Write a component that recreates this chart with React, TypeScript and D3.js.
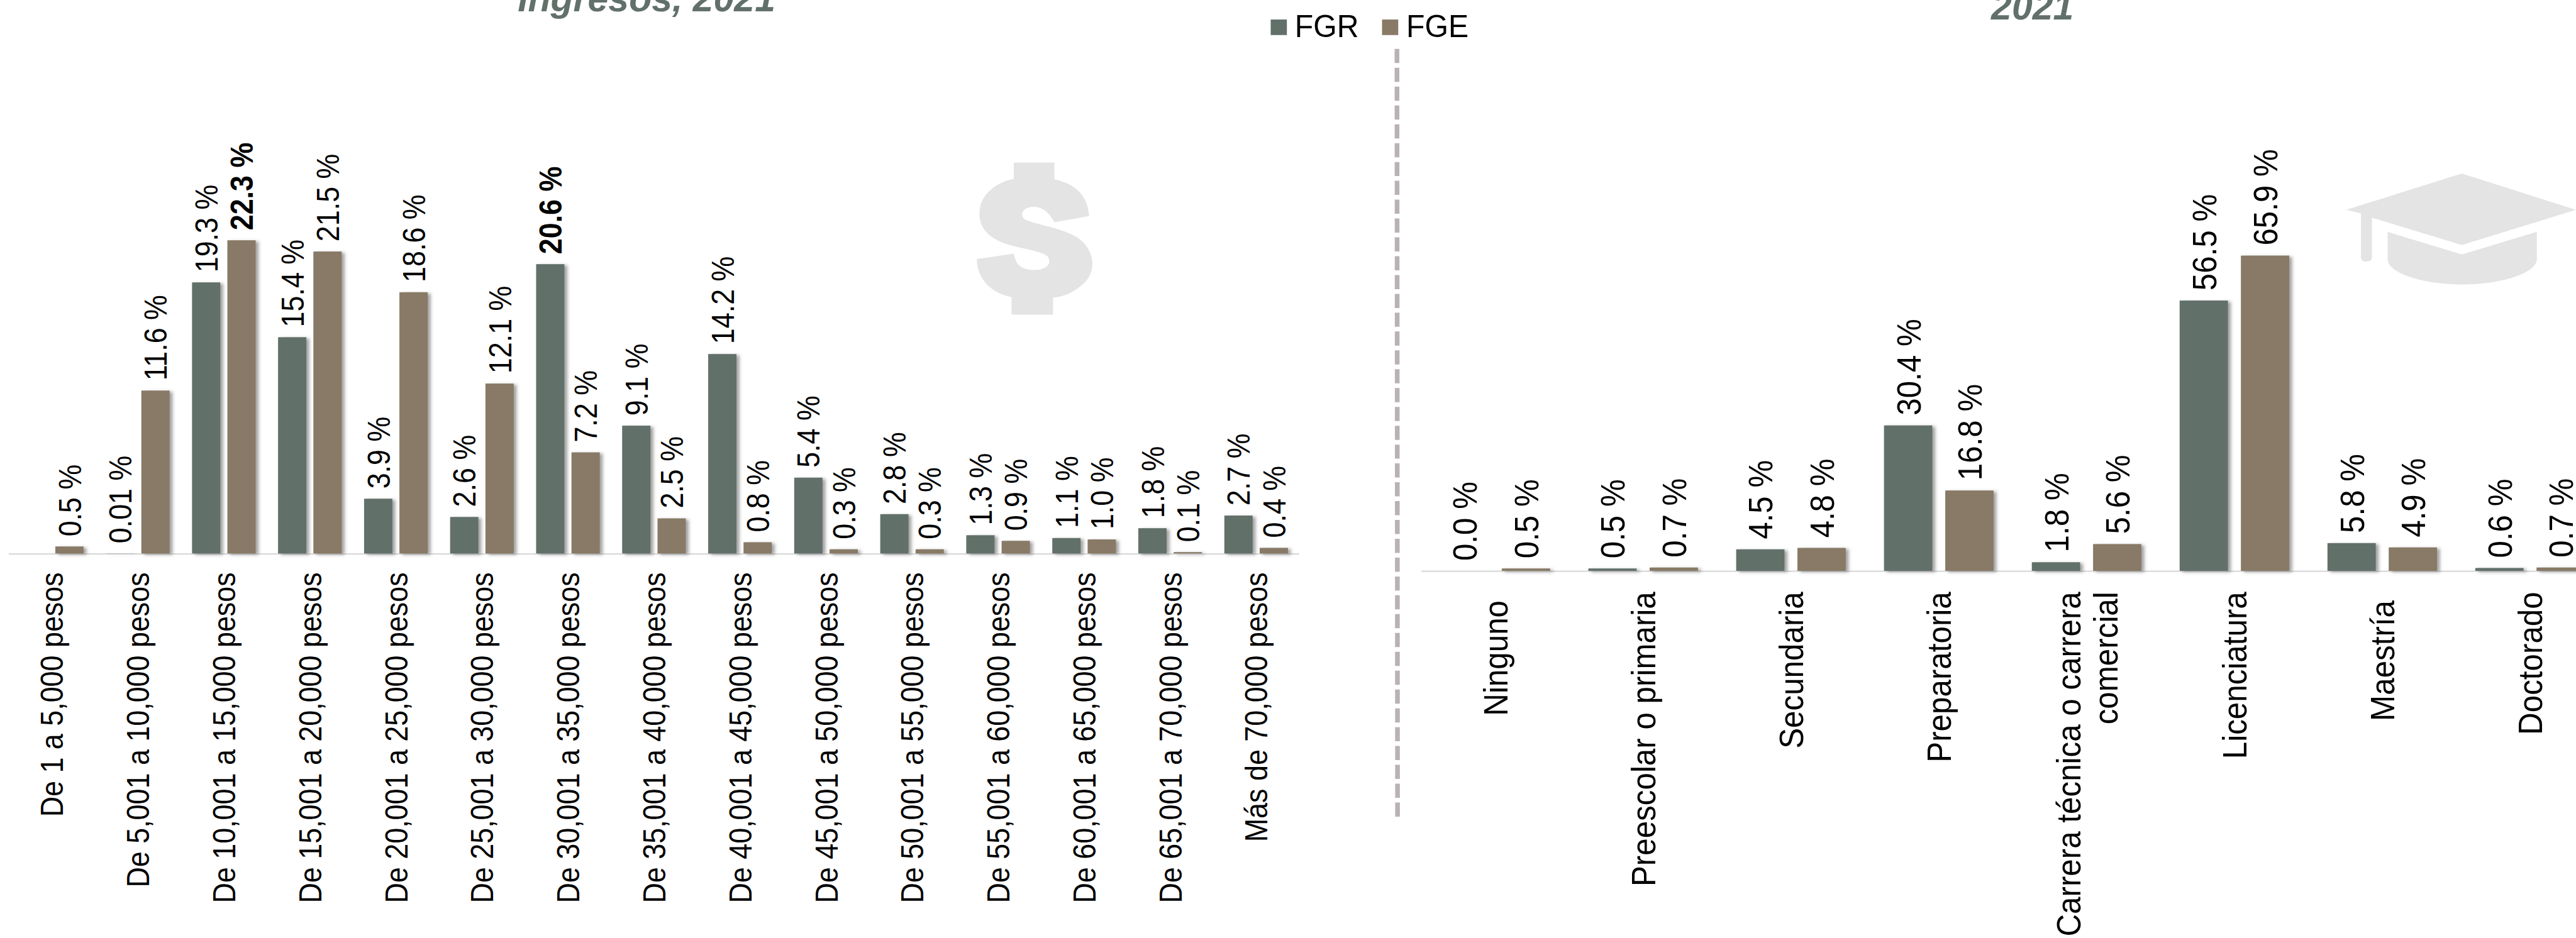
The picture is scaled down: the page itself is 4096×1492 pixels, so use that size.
import React from "react";
import * as d3 from "d3";

const incomeCategories = ["De 1 a 5,000 pesos","De 5,001 a 10,000 pesos","De 10,001 a 15,000 pesos","De 15,001 a 20,000 pesos","De 20,001 a 25,000 pesos","De 25,001 a 30,000 pesos","De 30,001 a 35,000 pesos","De 35,001 a 40,000 pesos","De 40,001 a 45,000 pesos","De 45,001 a 50,000 pesos","De 50,001 a 55,000 pesos","De 55,001 a 60,000 pesos","De 60,001 a 65,000 pesos","De 65,001 a 70,000 pesos","Más de 70,000 pesos"];
const incomeFGR: (number | null)[] = [null,0.01,19.3,15.4,3.9,2.6,20.6,9.1,14.2,5.4,2.8,1.3,1.1,1.8,2.7];
const incomeFGE: (number | null)[] = [0.5,11.6,22.3,21.5,18.6,12.1,7.2,2.5,0.8,0.3,0.3,0.9,1.0,0.1,0.4];
const incomeBold = [22.3,20.6];

const eduCategories = ["Ninguno ","Preescolar o primaria","Secundaria","Preparatoria","Carrera técnica o carrera|comercial","Licenciatura","Maestría ","Doctorado"];
const eduFGR: (number | null)[] = [0.0,0.5,4.5,30.4,1.8,56.5,5.8,0.6];
const eduFGE: (number | null)[] = [0.5,0.7,4.8,16.8,5.6,65.9,4.9,0.7];

const seriesNames = ["FGR","FGE"];
const seriesColors = ["#62706a","#887a66"];
const FONT = "'Liberation Sans', Arial, sans-serif";
const fmt = (v: number) => (v > 0 && v < 0.1 ? v.toFixed(2) : v.toFixed(1)) + " %";

type PanelCfg = {
  cats: string[]; fgr: (number|null)[]; fge: (number|null)[]; bold: number[];
  x0: number; step: number; half: number; pad: number; base: number; topVal: number; topY: number;
  fs: number; sy: number; gap: number; labelTop: number; axisEnd: number; lineGap: number;
};

function Panel({ c }: { c: PanelCfg }) {
  const x = d3.scaleBand<string>().domain(c.cats).range([c.x0, c.x0 + c.step * c.cats.length]);
  const y = d3.scaleLinear().domain([0, c.topVal]).range([c.base, c.topY]);
  const sub = (k: string) =>
    d3.scaleBand<string>().domain(seriesNames).range([x(k)! + c.step / 2 - c.half, x(k)! + c.step / 2 + c.half]).paddingInner(c.pad);
  const series = [c.fgr, c.fge];
  const base = 0.358 * c.fs * c.sy;
  return (
    <g fontFamily={FONT}>
      <line x1={c.x0} x2={c.axisEnd} y1={c.base + 0.7} y2={c.base + 0.7} stroke="#d9d9d9" strokeWidth={2.4} />
      <g filter="url(#barShadow)">
        {c.cats.map((k) => series.map((vals, si) => {
          const v = vals[c.cats.indexOf(k)];
          if (v == null || v === 0) return null;
          const s = sub(k);
          return <rect key={k + si} x={s(seriesNames[si])} width={s.bandwidth()} y={y(v)} height={c.base - y(v)} fill={seriesColors[si]} />;
        }))}
      </g>
      {c.cats.map((k) => series.map((vals, si) => {
        const v = vals[c.cats.indexOf(k)];
        if (v == null) return null;
        const s = sub(k);
        const cx = s(seriesNames[si])! + s.bandwidth() / 2 + base;
        return (
          <text key={k + si} transform={`translate(${cx},${y(v) - c.gap}) rotate(-90) scale(1,${c.sy})`}
            fontSize={c.fs} fontWeight={c.bold.includes(v) ? 700 : 400} fill="#000">{fmt(v)}</text>
        );
      }))}
      {c.cats.map((k) => {
        const lines = k.split("|");
        const center = x(k)! + c.step / 2;
        return lines.map((ln, li) => {
          const offs = lines.length > 1 ? (li - (lines.length - 1) / 2) * c.lineGap : 0;
          return (
            <text key={k + li} transform={`translate(${center + offs + base},${c.labelTop}) rotate(-90) scale(1,${c.sy})`}
              fontSize={c.fs} textAnchor="end" fill="#000" style={{ whiteSpace: "pre" }}>{ln}</text>
          );
        });
      })}
    </g>
  );
}

const incomeCfg: PanelCfg = { cats: incomeCategories, fgr: incomeFGR, fge: incomeFGE, bold: incomeBold,
  x0: 14.9, step: 146.07, half: 54, pad: 0.2, base: 940, topVal: 22.3, topY: 408,
  fs: 47.9, sy: 1.13, gap: 17, labelTop: 972, axisEnd: 2206, lineGap: 63 };
const eduCfg: PanelCfg = { cats: eduCategories, fgr: eduFGR, fge: eduFGE, bold: [],
  x0: 2413.5, step: 251, half: 93, pad: 0.2115, base: 969.5, topVal: 65.9, topY: 434,
  fs: 52.7, sy: 1.1, gap: 17, labelTop: 1005, axisEnd: 4421, lineGap: 63 };

export default function App() {
  return (
    <svg width={4096} height={1492} viewBox="0 0 4374 1593" style={{ position: "absolute", left: 0, top: 0, display: "block", background: "#fff" }}>
      <defs>
        <filter id="barShadow" filterUnits="userSpaceOnUse" x={0} y={0} width={4374} height={1593}>
          <feDropShadow dx={5} dy={2} stdDeviation={3} floodColor="#555" floodOpacity={0.55} />
        </filter>
      </defs>
      <rect width={4374} height={1593} fill="#fff" />

      {/* dollar icon */}
      <g transform={`translate(1400,0) scale(${1 / 1.3067},${1 / 2.24})`}>
        <path fill="#e4e4e4" d="M420 618 L510 618 L510 682 C560 700 585 750 587 822 L510 845 C495 800 480 785 460 787 C440 790 432 815 445 835 C480 860 540 870 570 915 C600 960 605 1040 570 1085 C555 1110 530 1130 507 1132 L507 1197 L415 1197 L415 1130 C370 1115 338 1060 338 985 L420 965 C425 1000 430 1025 465 1027 C495 1027 505 1000 495 975 C480 950 420 945 385 915 C350 885 340 840 345 790 C350 735 385 690 420 680 Z" />
      </g>
      {/* mortarboard icon */}
      <g transform={`translate(3300,0) scale(${1 / 1.46},${1 / 2.24})`} fill="#e4e4e4">
        <path d="M1285 660 L1568 798 L1285 932 L1062 828 L1062 980 Q1062 995 1048 995 Q1035 995 1035 980 L1035 812 L998 798 Z" />
        <path d="M1101 882 L1285 968 L1471 882 L1471 985 C1471 1040 1380 1082 1285 1082 C1190 1082 1101 1040 1101 985 Z" />
      </g>

      <Panel c={incomeCfg} />
      <Panel c={eduCfg} />

      {/* divider */}
      <line x1={2372} x2={2373} y1={83} y2={1387} stroke="#bab2b2" strokeWidth={8} strokeDasharray="24 8" />

      {/* legend */}
      <g fontFamily={FONT} fontSize={51.5}>
        {seriesNames.map((n, i) => {
          const sx = [2157.6, 2346.7][i];
          return (
            <g key={n}>
              <rect x={sx} y={33} width={27.5} height={26.4} fill={seriesColors[i]} />
              <text transform={`translate(${sx + 41},62.5) scale(1,1.04)`} fill="#000">{n}</text>
            </g>
          );
        })}
      </g>

      {/* titles, cropped by the top edge */}
      <g fontFamily={FONT} fontWeight={700} fontStyle="italic" fontSize={63} fill="#62706a">
        <text x={879} y={19}>Ingresos, 2021</text>
        <text x={3381} y={33}>2021</text>
      </g>
    </svg>
  );
}
